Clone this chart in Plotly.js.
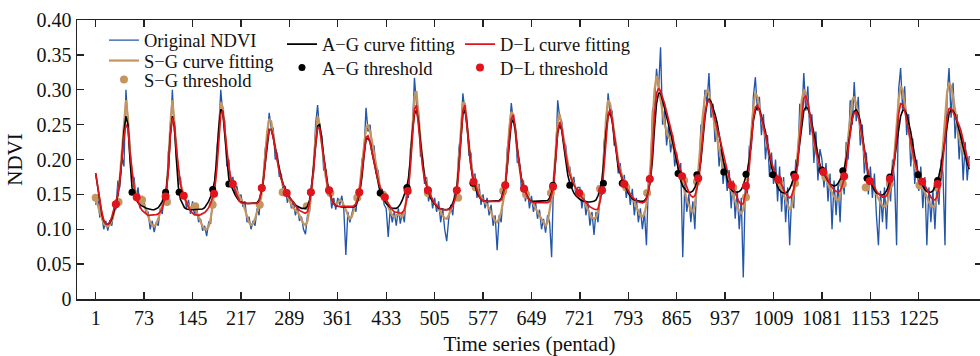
<!DOCTYPE html>
<html><head><meta charset="utf-8">
<script src="https://cdn.plot.ly/plotly-3.0.1.min.js"></script>
<style>html,body{margin:0;padding:0;overflow:hidden;background:#fff}#chart{width:990px;height:356px}</style>
</head><body><div id="chart"></div>
<script>
// pentad sampling step of the stored series (every 3rd pentad, starting at pentad 1)
const sampleStep = 3;

const ndviOriginal = [
0.135,0.15,0.118,0.12,0.1,0.112,0.098,0.113,0.105,0.13,0.128,0.17,0.16,0.205,0.19,0.3,0.25,0.22,0.17,0.175,0.145,0.16,0.13,0.148,
0.14,0.122,0.125,0.1,0.112,0.096,0.11,0.105,0.13,0.122,0.155,0.14,0.21,0.235,0.3,0.24,0.225,0.17,0.175,0.145,0.15,0.13,0.142,0.122,
0.14,0.12,0.132,0.11,0.115,0.098,0.105,0.09,0.11,0.108,0.145,0.15,0.215,0.24,0.3,0.265,0.255,0.19,0.2,0.16,0.175,0.15,0.162,0.142,
0.15,0.132,0.14,0.11,0.118,0.1,0.112,0.105,0.13,0.12,0.16,0.165,0.215,0.23,0.267,0.245,0.245,0.2,0.21,0.175,0.18,0.15,0.162,0.138,
0.15,0.13,0.14,0.12,0.132,0.112,0.118,0.1,0.093,0.12,0.125,0.165,0.18,0.25,0.278,0.24,0.235,0.185,0.185,0.15,0.158,0.13,0.145,0.128,
0.145,0.135,0.148,0.128,0.063,0.125,0.11,0.122,0.135,0.125,0.155,0.15,0.2,0.21,0.274,0.24,0.25,0.215,0.22,0.18,0.185,0.15,0.158,0.135,
0.13,0.089,0.13,0.11,0.125,0.105,0.13,0.108,0.125,0.11,0.15,0.145,0.215,0.24,0.317,0.28,0.27,0.205,0.205,0.165,0.175,0.14,0.155,0.13,
0.145,0.125,0.14,0.11,0.13,0.1,0.083,0.115,0.135,0.12,0.155,0.145,0.215,0.235,0.295,0.27,0.26,0.205,0.21,0.165,0.18,0.145,0.165,0.135,
0.15,0.13,0.145,0.12,0.135,0.105,0.12,0.07,0.12,0.11,0.15,0.15,0.215,0.235,0.281,0.255,0.25,0.195,0.2,0.158,0.17,0.14,0.158,0.13,
0.148,0.125,0.14,0.115,0.128,0.1,0.115,0.095,0.12,0.11,0.06,0.175,0.2,0.285,0.26,0.255,0.225,0.22,0.185,0.19,0.165,0.175,0.15,0.16,
0.16,0.13,0.15,0.12,0.138,0.105,0.125,0.092,0.125,0.11,0.15,0.15,0.225,0.245,0.295,0.265,0.27,0.22,0.225,0.18,0.195,0.16,0.178,0.145,
0.165,0.135,0.158,0.12,0.145,0.11,0.13,0.1,0.125,0.077,0.17,0.175,0.27,0.28,0.33,0.3,0.361,0.25,0.27,0.22,0.25,0.21,0.235,0.19,
0.21,0.175,0.195,0.06,0.165,0.125,0.15,0.11,0.14,0.1,0.175,0.17,0.25,0.245,0.3,0.28,0.324,0.26,0.28,0.225,0.245,0.19,0.215,0.165,
0.195,0.155,0.185,0.13,0.17,0.115,0.155,0.1,0.145,0.031,0.16,0.15,0.22,0.215,0.29,0.318,0.27,0.29,0.235,0.265,0.2,0.235,0.175,0.21,
0.165,0.2,0.14,0.19,0.125,0.175,0.11,0.16,0.077,0.15,0.13,0.2,0.19,0.28,0.26,0.324,0.27,0.305,0.235,0.265,0.195,0.24,0.17,0.215,
0.2,0.16,0.195,0.14,0.18,0.1,0.17,0.12,0.165,0.11,0.185,0.15,0.225,0.2,0.285,0.25,0.311,0.255,0.29,0.22,0.25,0.18,0.21,0.15,
0.19,0.145,0.18,0.12,0.077,0.155,0.11,0.16,0.1,0.17,0.14,0.2,0.17,0.077,0.3,0.331,0.27,0.305,0.235,0.265,0.19,0.23,0.165,0.2,
0.155,0.19,0.13,0.175,0.077,0.16,0.11,0.155,0.1,0.165,0.135,0.2,0.18,0.077,0.29,0.331,0.26,0.31,0.23,0.265,0.2,0.24,0.17,0.225,0.17,0.205
];

const sgFit = [
0.142,0.135,0.125,0.115,0.108,0.105,0.104,0.106,0.112,0.122,0.135,0.15,0.175,0.21,0.255,0.285,0.26,0.21,0.18,0.162,0.152,0.145,0.14,0.137,
0.135,0.128,0.118,0.11,0.106,0.104,0.108,0.115,0.125,0.135,0.145,0.155,0.19,0.25,0.285,0.255,0.21,0.18,0.165,0.155,0.145,0.138,0.135,0.13,
0.132,0.13,0.125,0.118,0.11,0.104,0.1,0.1,0.104,0.115,0.135,0.16,0.2,0.25,0.282,0.275,0.24,0.205,0.185,0.172,0.165,0.16,0.155,0.15,
0.145,0.138,0.128,0.118,0.11,0.106,0.108,0.115,0.125,0.133,0.145,0.17,0.205,0.24,0.258,0.255,0.235,0.215,0.2,0.185,0.172,0.162,0.155,0.148,
0.142,0.135,0.13,0.128,0.125,0.12,0.113,0.108,0.106,0.112,0.13,0.155,0.19,0.235,0.262,0.25,0.225,0.195,0.175,0.16,0.15,0.142,0.138,0.135,
0.138,0.142,0.14,0.135,0.128,0.12,0.115,0.118,0.128,0.138,0.148,0.165,0.19,0.22,0.245,0.25,0.24,0.225,0.208,0.19,0.175,0.16,0.15,0.142,
0.14,0.132,0.125,0.12,0.118,0.12,0.122,0.12,0.118,0.125,0.14,0.16,0.2,0.255,0.29,0.298,0.26,0.22,0.195,0.178,0.165,0.155,0.148,0.14,
0.138,0.133,0.128,0.125,0.12,0.116,0.115,0.12,0.128,0.135,0.145,0.158,0.2,0.25,0.282,0.28,0.25,0.22,0.195,0.178,0.168,0.16,0.152,0.146,
0.142,0.138,0.135,0.13,0.125,0.118,0.112,0.11,0.115,0.125,0.14,0.16,0.2,0.245,0.268,0.265,0.24,0.21,0.19,0.172,0.162,0.155,0.148,0.142,
0.14,0.136,0.13,0.125,0.12,0.113,0.108,0.105,0.11,0.125,0.145,0.17,0.215,0.255,0.265,0.25,0.23,0.21,0.195,0.182,0.172,0.165,0.158,0.152,
0.15,0.146,0.14,0.135,0.128,0.122,0.117,0.115,0.117,0.125,0.14,0.16,0.21,0.26,0.285,0.28,0.26,0.238,0.215,0.198,0.185,0.175,0.168,0.16,
0.155,0.15,0.145,0.14,0.132,0.125,0.12,0.118,0.122,0.135,0.16,0.19,0.25,0.3,0.32,0.31,0.285,0.265,0.25,0.24,0.232,0.228,0.222,0.21,
0.2,0.19,0.178,0.165,0.152,0.142,0.135,0.128,0.125,0.135,0.16,0.19,0.23,0.265,0.29,0.3,0.295,0.28,0.262,0.245,0.23,0.215,0.2,0.19,
0.182,0.175,0.165,0.155,0.148,0.14,0.132,0.126,0.123,0.128,0.145,0.17,0.2,0.24,0.275,0.295,0.29,0.275,0.26,0.245,0.23,0.215,0.2,0.19,
0.185,0.178,0.17,0.162,0.155,0.148,0.14,0.133,0.128,0.132,0.15,0.175,0.21,0.25,0.285,0.3,0.295,0.28,0.26,0.24,0.225,0.21,0.198,0.19,
0.185,0.18,0.172,0.165,0.158,0.152,0.147,0.143,0.142,0.148,0.162,0.18,0.205,0.235,0.265,0.285,0.29,0.28,0.265,0.245,0.225,0.205,0.19,0.178,
0.172,0.165,0.158,0.15,0.143,0.138,0.134,0.132,0.135,0.145,0.162,0.182,0.21,0.245,0.285,0.305,0.3,0.28,0.26,0.24,0.222,0.205,0.192,0.18,
0.175,0.168,0.16,0.152,0.145,0.139,0.134,0.132,0.134,0.142,0.16,0.185,0.22,0.26,0.295,0.31,0.305,0.29,0.27,0.25,0.232,0.218,0.21,0.205,0.2,0.195
];

const agFit = [
0.18,0.158,0.138,0.122,0.112,0.108,0.107,0.109,0.115,0.124,0.135,0.15,0.17,0.2,0.24,0.262,0.25,0.2,0.16,0.148,0.142,0.138,0.135,0.134,
0.132,0.13,0.129,0.128,0.128,0.128,0.129,0.131,0.135,0.14,0.148,0.158,0.185,0.235,0.262,0.248,0.2,0.16,0.143,0.136,0.131,0.129,0.128,0.128,
0.128,0.128,0.128,0.128,0.128,0.129,0.131,0.135,0.14,0.147,0.156,0.17,0.2,0.245,0.272,0.268,0.235,0.195,0.172,0.163,0.156,0.15,0.145,0.141,
0.139,0.138,0.137,0.137,0.137,0.137,0.137,0.137,0.138,0.142,0.152,0.168,0.195,0.225,0.243,0.243,0.232,0.216,0.2,0.185,0.173,0.164,0.157,0.15,
0.146,0.142,0.138,0.135,0.133,0.131,0.13,0.13,0.13,0.133,0.142,0.16,0.188,0.225,0.248,0.25,0.232,0.205,0.182,0.165,0.153,0.143,0.137,0.134,
0.133,0.132,0.132,0.132,0.132,0.132,0.132,0.132,0.132,0.134,0.142,0.155,0.175,0.205,0.228,0.231,0.225,0.21,0.195,0.18,0.165,0.153,0.146,0.141,
0.137,0.134,0.131,0.13,0.13,0.13,0.132,0.136,0.142,0.15,0.158,0.172,0.2,0.24,0.265,0.271,0.255,0.225,0.195,0.175,0.162,0.152,0.145,0.14,
0.136,0.133,0.13,0.129,0.128,0.128,0.128,0.129,0.132,0.137,0.146,0.158,0.19,0.235,0.265,0.271,0.252,0.22,0.19,0.172,0.162,0.153,0.147,0.143,
0.141,0.14,0.14,0.14,0.14,0.14,0.14,0.14,0.141,0.144,0.152,0.163,0.19,0.228,0.252,0.257,0.242,0.215,0.19,0.173,0.162,0.153,0.147,0.142,
0.14,0.14,0.14,0.14,0.14,0.14,0.14,0.14,0.141,0.145,0.153,0.165,0.2,0.238,0.25,0.242,0.22,0.195,0.178,0.166,0.158,0.152,0.148,0.145,
0.143,0.141,0.14,0.139,0.139,0.139,0.139,0.14,0.142,0.148,0.157,0.172,0.2,0.24,0.262,0.267,0.255,0.235,0.21,0.19,0.18,0.172,0.165,0.158,
0.152,0.147,0.144,0.142,0.141,0.14,0.14,0.14,0.141,0.145,0.155,0.17,0.2,0.245,0.28,0.295,0.295,0.285,0.272,0.26,0.25,0.238,0.225,0.21,
0.195,0.182,0.17,0.162,0.157,0.154,0.153,0.153,0.155,0.16,0.168,0.178,0.198,0.23,0.26,0.28,0.287,0.283,0.275,0.265,0.253,0.238,0.219,0.2,
0.183,0.172,0.163,0.157,0.154,0.153,0.153,0.154,0.157,0.163,0.172,0.183,0.2,0.228,0.255,0.27,0.275,0.272,0.262,0.25,0.24,0.222,0.205,0.19,
0.178,0.168,0.161,0.156,0.153,0.152,0.152,0.154,0.158,0.165,0.173,0.182,0.2,0.225,0.252,0.27,0.275,0.273,0.265,0.253,0.238,0.222,0.206,0.192,
0.185,0.179,0.174,0.169,0.165,0.163,0.162,0.163,0.166,0.171,0.178,0.186,0.2,0.22,0.242,0.259,0.269,0.271,0.266,0.255,0.235,0.215,0.195,0.177,
0.168,0.161,0.156,0.152,0.15,0.149,0.149,0.151,0.155,0.162,0.172,0.184,0.2,0.222,0.245,0.262,0.27,0.271,0.265,0.253,0.24,0.222,0.205,0.188,
0.178,0.169,0.162,0.157,0.154,0.153,0.153,0.155,0.16,0.167,0.177,0.19,0.208,0.23,0.252,0.266,0.271,0.27,0.264,0.254,0.243,0.231,0.218,0.205,0.195,0.186
];

const dlFit = [
0.18,0.16,0.14,0.125,0.113,0.108,0.107,0.11,0.118,0.128,0.137,0.15,0.17,0.2,0.232,0.25,0.245,0.21,0.18,0.16,0.147,0.138,0.132,0.127,
0.124,0.122,0.12,0.12,0.12,0.12,0.121,0.122,0.125,0.13,0.14,0.152,0.185,0.235,0.26,0.25,0.215,0.185,0.165,0.152,0.145,0.138,0.132,0.127,
0.123,0.121,0.12,0.12,0.121,0.122,0.124,0.127,0.131,0.137,0.146,0.158,0.185,0.23,0.265,0.27,0.24,0.21,0.188,0.173,0.165,0.155,0.147,0.141,
0.138,0.137,0.137,0.137,0.137,0.137,0.137,0.137,0.137,0.14,0.152,0.168,0.195,0.225,0.243,0.243,0.232,0.215,0.198,0.183,0.172,0.163,0.156,0.15,
0.146,0.142,0.137,0.133,0.13,0.127,0.125,0.124,0.123,0.125,0.138,0.158,0.185,0.222,0.245,0.245,0.225,0.2,0.178,0.162,0.152,0.142,0.136,0.134,
0.133,0.133,0.133,0.133,0.133,0.133,0.133,0.133,0.133,0.136,0.145,0.158,0.18,0.21,0.232,0.234,0.225,0.21,0.195,0.182,0.17,0.16,0.153,0.147,
0.142,0.137,0.132,0.128,0.125,0.124,0.123,0.123,0.124,0.128,0.14,0.157,0.19,0.24,0.272,0.278,0.25,0.215,0.19,0.172,0.162,0.155,0.148,0.142,
0.137,0.134,0.131,0.129,0.128,0.128,0.128,0.128,0.13,0.134,0.142,0.153,0.185,0.235,0.27,0.278,0.25,0.215,0.19,0.175,0.165,0.155,0.148,0.143,
0.141,0.14,0.14,0.14,0.14,0.14,0.14,0.14,0.14,0.142,0.15,0.162,0.19,0.23,0.258,0.264,0.245,0.215,0.19,0.172,0.162,0.153,0.146,0.141,
0.139,0.138,0.138,0.138,0.138,0.138,0.138,0.138,0.138,0.14,0.15,0.16,0.2,0.24,0.254,0.245,0.225,0.205,0.19,0.178,0.17,0.164,0.159,0.154,
0.15,0.146,0.142,0.138,0.135,0.132,0.13,0.129,0.128,0.129,0.14,0.155,0.19,0.235,0.265,0.272,0.258,0.235,0.212,0.195,0.182,0.172,0.166,0.16,
0.155,0.15,0.146,0.143,0.141,0.139,0.138,0.138,0.139,0.143,0.155,0.172,0.215,0.265,0.295,0.302,0.298,0.29,0.28,0.268,0.257,0.245,0.233,0.218,
0.205,0.193,0.184,0.176,0.168,0.16,0.153,0.148,0.146,0.148,0.158,0.173,0.2,0.235,0.265,0.282,0.285,0.28,0.268,0.255,0.245,0.235,0.222,0.21,
0.196,0.185,0.175,0.167,0.16,0.152,0.145,0.139,0.135,0.137,0.15,0.163,0.19,0.225,0.258,0.275,0.278,0.27,0.26,0.248,0.235,0.222,0.208,0.196,
0.187,0.18,0.175,0.17,0.163,0.157,0.151,0.147,0.145,0.148,0.158,0.172,0.195,0.23,0.265,0.288,0.291,0.282,0.265,0.245,0.228,0.213,0.2,0.19,
0.186,0.182,0.176,0.17,0.165,0.16,0.156,0.154,0.153,0.155,0.162,0.172,0.19,0.215,0.24,0.258,0.267,0.268,0.262,0.25,0.232,0.212,0.195,0.18,
0.171,0.166,0.16,0.155,0.151,0.148,0.146,0.146,0.148,0.155,0.166,0.178,0.2,0.23,0.265,0.28,0.279,0.27,0.255,0.24,0.225,0.21,0.197,0.187,
0.18,0.174,0.169,0.163,0.157,0.151,0.146,0.143,0.142,0.146,0.157,0.172,0.2,0.235,0.26,0.273,0.274,0.268,0.262,0.256,0.249,0.24,0.228,0.216,0.203,0.19
];

// threshold points (pentad, NDVI)
const sgThrX = [1,35,70,107,149,175,204,245,279,315,350,390,428,464,495,540,566,607,641,678,723,751,790,821,876,895,949,968,1019,1041,1086,1112,1146,1182,1226,1252];
const sgThrY = [0.145,0.139,0.142,0.139,0.133,0.135,0.165,0.135,0.153,0.133,0.152,0.145,0.15,0.158,0.152,0.145,0.16,0.155,0.15,0.152,0.148,0.158,0.16,0.152,0.17,0.168,0.16,0.146,0.165,0.166,0.175,0.165,0.16,0.165,0.163,0.16];
const agThrX = [31,55,105,125,175,199,248,285,321,348,393,424,464,495,538,562,610,638,681,706,756,784,825,867,895,935,968,1008,1039,1081,1112,1148,1182,1224,1253];
const agThrY = [0.136,0.153,0.153,0.153,0.157,0.165,0.159,0.152,0.153,0.156,0.153,0.152,0.16,0.156,0.156,0.166,0.163,0.158,0.163,0.163,0.166,0.166,0.172,0.18,0.178,0.182,0.179,0.178,0.179,0.185,0.184,0.173,0.175,0.178,0.17];
const dlThrX = [31,62,105,132,177,205,248,285,321,348,393,431,465,495,538,563,610,638,681,720,754,787,825,873,897,946,968,1016,1041,1083,1114,1152,1182,1230,1253];
const dlThrY = [0.136,0.146,0.147,0.148,0.151,0.165,0.159,0.152,0.153,0.156,0.153,0.146,0.155,0.156,0.156,0.168,0.163,0.158,0.161,0.152,0.156,0.165,0.172,0.176,0.173,0.163,0.162,0.171,0.175,0.182,0.176,0.169,0.172,0.168,0.165];

const xTickVals = [1,73,145,217,289,361,433,505,577,649,721,793,865,937,1009,1081,1153,1225];
const yTickVals = [0,0.05,0.1,0.15,0.2,0.25,0.3,0.35,0.4];
const yTickText = ['0','0.05','0.10','0.15','0.20','0.25','0.30','0.35','0.40'];

const seriesNames = ['Original NDVI','S\u2212G curve fitting','S\u2212G threshold','A\u2212G curve fitting','A\u2212G threshold','D\u2212L curve fitting','D\u2212L threshold'];

function pentadAxis(arr){ const x=[]; for(let i=0;i<arr.length;i++) x.push(1+sampleStep*i); return x; }

const FONT = 'Liberation Serif, Times New Roman, serif';
const traces = [
 {x:pentadAxis(ndviOriginal), y:ndviOriginal, name:seriesNames[0], mode:'lines', line:{color:'#2456A8', width:1.35}, legend:'legend'},
 {x:pentadAxis(sgFit), y:sgFit, name:seriesNames[1], mode:'lines', line:{color:'#C49560', width:2.2}, legend:'legend2'},
 {x:sgThrX, y:sgThrY, name:seriesNames[2], mode:'markers', marker:{color:'#C49560', size:8}, legend:'legend3'},
 {x:pentadAxis(agFit), y:agFit, name:seriesNames[3], mode:'lines', line:{color:'#000000', width:1.6}, legend:'legend4'},
 {x:pentadAxis(dlFit), y:dlFit, name:seriesNames[5], mode:'lines', line:{color:'#E0141C', width:1.7}, legend:'legend6'},
 {x:agThrX, y:agThrY, name:seriesNames[4], mode:'markers', marker:{color:'#000000', size:7}, legend:'legend5'},
 {x:dlThrX, y:dlThrY, name:seriesNames[6], mode:'markers', marker:{color:'#E0141C', size:8}, legend:'legend7'}
];

function leg(x, y){
  return {x:x, y:y, xanchor:'left', yanchor:'middle', bgcolor:'rgba(0,0,0,0)', borderwidth:0,
          font:{family:FONT, size:18.5, color:'#111'}, tracegroupgap:0};
}

const axisCommon = {showline:true, linecolor:'#222', linewidth:1.5, mirror:'ticks', ticks:'inside', ticklen:7,
  tickwidth:1.3, tickcolor:'#222', showgrid:false, zeroline:false, tickfont:{family:FONT, size:20, color:'#111'}};

const layout = {
  width:990, height:356,
  margin:{l:77, r:8, t:20, b:57},
  paper_bgcolor:'#fff', plot_bgcolor:'#fff',
  font:{family:FONT, color:'#111'},
  showlegend:true,
  xaxis:Object.assign({}, axisCommon, {range:[-26.8,1319], tickmode:'array', tickvals:xTickVals,
     title:{text:'Time series (pentad)', font:{family:FONT, size:21, color:'#111'}, standoff:10}}),
  yaxis:Object.assign({}, axisCommon, {range:[0,0.4], tickmode:'array', tickvals:yTickVals, ticktext:yTickText,
     title:{text:'NDVI', font:{family:FONT, size:21, color:'#111'}, standoff:8}}),
  legend:leg(0.0298, 0.926),
  legend2:leg(0.0298, 0.853),
  legend3:leg(0.0298, 0.785),
  legend4:leg(0.2265, 0.912),
  legend5:leg(0.2265, 0.828),
  legend6:leg(0.4232, 0.912),
  legend7:leg(0.4232, 0.828)
};

Plotly.newPlot('chart', traces, layout, {displayModeBar:false, staticPlot:true});
</script>
</body></html>
